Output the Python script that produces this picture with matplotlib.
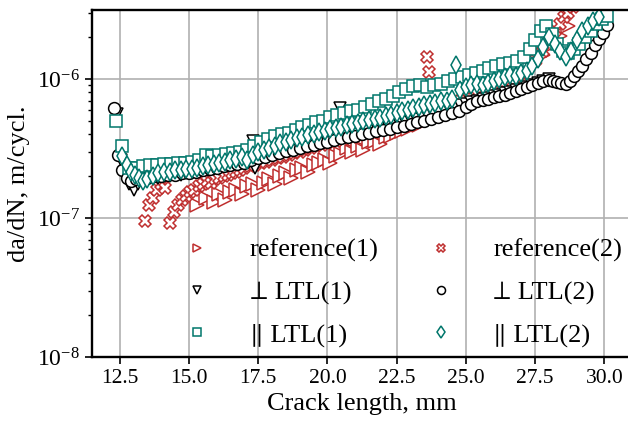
import numpy
import matplotlib
matplotlib.use("Agg")
import matplotlib.pyplot as plt


RED = "#bf2e2e"
TEAL = "#00766b"

# crack length, mm / crack growth rate in units of 1e-7 m/cycl.
ref1_x = [15.3, 15.6, 15.9, 16.1, 16.3, 16.5, 16.7, 16.9, 17.1, 17.3, 17.5,
          17.7, 17.9, 18.1, 18.3, 18.5, 18.7, 18.9, 19.1, 19.3, 19.5, 19.7,
          19.9, 20.1, 20.3, 20.5, 20.7, 20.9, 21.1, 21.3, 21.5, 21.7, 21.9,
          22.1, 22.3, 22.5, 22.7, 22.9, 23.1, 23.3, 23.5, 23.7, 23.9, 24.1,
          24.3, 24.5, 24.8, 25.1, 25.4, 25.7, 26.0, 26.3, 26.6, 26.9, 27.2,
          27.5, 27.8, 28.1, 28.4, 28.7]
ref1_y = [1.25, 1.4, 1.3, 1.5, 1.35, 1.55, 1.6, 1.5, 1.7, 1.75, 1.6, 1.8,
          1.9, 1.75, 2.0, 2.1, 1.95, 2.2, 2.3, 2.15, 2.4, 2.5, 2.6, 2.5, 2.8,
          2.9, 3.2, 3.0, 3.3, 3.1, 3.5, 3.6, 3.4, 3.8, 3.9, 4.1, 4.2, 4.4,
          4.6, 4.7, 4.9, 5.1, 5.3, 5.5, 5.8, 6.0, 6.6, 7.0, 7.4, 7.8, 8.3,
          8.8, 9.4, 10.2, 11.5, 13.0, 15.0, 17.5, 20.5, 24.0]

ref2_x = [13.4, 13.55, 13.7, 13.85, 14.0, 14.15, 14.3, 14.45, 14.6, 14.75,
          14.9, 15.05, 15.2, 15.35, 15.5, 15.65, 15.8, 15.95, 16.1, 16.25,
          16.4, 16.55, 16.7, 16.85, 17.0, 17.2, 17.4, 17.6, 17.8, 18.0, 18.2,
          18.4, 18.6, 18.8, 19.0, 19.2, 19.4, 19.6, 19.8, 20.0, 20.3, 20.6,
          20.9, 21.2, 21.5, 21.8, 22.1, 22.4, 22.7, 23.0, 23.3, 23.6, 23.65,
          23.9, 24.2, 24.5, 24.8, 25.1, 25.4, 25.7, 26.0, 26.3, 26.6, 26.9,
          27.2, 27.5, 27.8, 28.0, 28.2, 28.4, 28.55, 28.7, 28.85, 29.0, 29.15]
ref2_y = [0.95, 1.25, 1.4, 1.6, 1.75, 1.65, 0.92, 1.1, 1.25, 1.35, 1.45,
          1.55, 1.6, 1.7, 1.75, 1.85, 1.8, 1.9, 1.95, 2.0, 2.05, 2.1, 2.15,
          2.2, 2.3, 2.35, 2.4, 2.5, 2.55, 2.6, 2.7, 2.75, 2.85, 2.95, 3.0,
          3.1, 3.2, 3.3, 3.35, 3.45, 3.6, 3.7, 3.85, 4.0, 4.15, 4.3, 4.5,
          4.7, 4.9, 5.1, 5.4, 14.5, 11.2, 5.9, 6.2, 6.6, 7.0, 7.4, 7.8, 8.3,
          8.8, 9.4, 10.0, 10.8, 12.0, 13.5, 16.0, 19.0, 22.0, 25.0, 28.0,
          30.0, 33.0, 36.0, 40.0]

perp1_x = [12.4, 12.55, 12.7, 12.85, 13.0, 13.15, 13.3, 13.5, 13.7, 13.9,
           14.1, 14.3, 14.5, 14.7, 14.9, 15.1, 15.3, 15.5, 15.7, 15.9, 16.1,
           16.3, 16.5, 16.7, 16.9, 17.1, 17.3, 17.4, 17.6, 17.8, 18.0, 18.2,
           18.4, 18.6, 18.8, 19.0, 19.2, 19.4, 19.6, 19.8, 20.0, 20.2, 20.45,
           20.6, 20.8, 21.0, 21.2, 21.4, 21.6, 21.8, 22.0, 22.2, 22.4, 22.6,
           22.8, 23.0, 23.2, 23.4, 23.6, 23.8, 24.0, 24.2, 24.4, 24.6, 24.8,
           25.0, 25.2, 25.4, 25.6, 25.8, 26.0, 26.2, 26.4, 26.6, 26.8, 27.0,
           27.2, 27.4, 27.6, 27.8, 28.0]
perp1_y = [5.6, 2.6, 2.0, 1.75, 1.6, 1.75, 1.85, 1.9, 1.95, 1.95, 2.0, 2.0,
           2.05, 2.05, 2.1, 2.1, 2.15, 2.2, 2.2, 2.25, 2.3, 2.35, 2.4, 2.45,
           2.5, 2.55, 3.6, 2.3, 2.7, 2.8, 2.9, 2.95, 3.05, 3.15, 3.2, 3.3,
           3.4, 3.45, 3.55, 3.6, 3.7, 3.8, 6.2, 3.9, 4.0, 4.05, 4.15, 4.25,
           4.35, 4.4, 4.5, 4.6, 4.7, 4.8, 4.9, 5.0, 5.15, 5.3, 5.5, 5.6, 5.8,
           6.0, 6.1, 6.3, 6.5, 6.6, 6.8, 7.0, 7.2, 7.3, 7.5, 7.7, 7.9, 8.1,
           8.3, 8.5, 8.8, 9.0, 9.3, 9.6, 10.0]

perp2_x = [12.3, 12.45, 12.6, 12.75, 12.9, 13.1, 13.3, 13.5, 13.75, 14.0,
           14.25, 14.5, 14.75, 15.0, 15.25, 15.5, 15.75, 16.0, 16.25, 16.5,
           16.75, 17.0, 17.25, 17.5, 17.75, 18.0, 18.25, 18.5, 18.75, 19.0,
           19.25, 19.5, 19.75, 20.0, 20.25, 20.5, 20.75, 21.0, 21.25, 21.5,
           21.75, 22.0, 22.25, 22.5, 22.75, 23.0, 23.25, 23.5, 23.75, 24.0,
           24.25, 24.5, 24.75, 25.0, 25.2, 25.4, 25.6, 25.8, 26.0, 26.2, 26.4,
           26.6, 26.8, 27.0, 27.2, 27.4, 27.6, 27.8, 28.0, 28.15, 28.3, 28.45,
           28.6, 28.75, 28.9, 29.05, 29.2, 29.35, 29.5, 29.65, 29.8, 29.95,
           30.1]
perp2_y = [6.2, 2.85, 2.2, 1.95, 1.85, 1.9, 1.95, 1.95, 2.0, 2.0, 2.05, 2.05,
           2.1, 2.1, 2.15, 2.2, 2.25, 2.3, 2.35, 2.4, 2.45, 2.5, 2.6, 2.7,
           2.75, 2.85, 2.95, 3.05, 3.1, 3.2, 3.3, 3.35, 3.45, 3.55, 3.65,
           3.75, 3.85, 3.9, 4.0, 4.1, 4.2, 4.3, 4.4, 4.5, 4.6, 4.75, 4.9, 5.0,
           5.15, 5.3, 5.5, 5.7, 5.9, 6.3, 6.6, 6.9, 7.1, 7.2, 7.4, 7.5, 7.7,
           7.9, 8.2, 8.5, 8.8, 9.1, 9.4, 9.7, 9.9, 9.7, 9.5, 9.3, 9.2, 9.6,
           10.5, 11.5, 12.5, 14.0, 15.5, 17.5, 19.5, 21.5, 24.5]

par1_x = [12.35, 12.6, 12.85, 13.1, 13.35, 13.6, 13.85, 14.1, 14.35, 14.6,
          14.85, 15.1, 15.35, 15.6, 15.85, 16.1, 16.35, 16.6, 16.85, 17.1,
          17.35, 17.6, 17.85, 18.1, 18.35, 18.6, 18.85, 19.1, 19.35, 19.6,
          19.85, 20.1, 20.35, 20.6, 20.85, 21.1, 21.35, 21.6, 21.85, 22.1,
          22.35, 22.6, 22.85, 23.1, 23.35, 23.6, 23.85, 24.1, 24.35, 24.6,
          24.85, 25.1, 25.35, 25.6, 25.85, 26.1, 26.35, 26.6, 26.85, 27.1,
          27.3, 27.5, 27.7, 27.9, 28.1, 28.3, 28.5, 28.7, 28.9, 29.1, 29.3,
          29.5, 29.7, 29.9, 30.1]
par1_y = [4.95, 3.3, 2.3, 2.3, 2.35, 2.4, 2.4, 2.45, 2.45, 2.5, 2.5, 2.55,
          2.6, 2.85, 2.8, 2.85, 2.9, 2.95, 3.0, 3.1, 3.3, 3.5, 3.7, 3.9, 4.0,
          4.1, 4.3, 4.5, 4.7, 4.9, 5.0, 5.3, 5.5, 5.7, 5.9, 6.0, 6.3, 6.6,
          6.9, 7.2, 7.6, 8.0, 8.5, 8.9, 9.0, 8.8, 9.0, 9.2, 9.6, 10.0, 10.3,
          10.6, 11.0, 11.5, 12.0, 12.5, 12.8, 13.0, 13.5, 14.5, 16.5, 19.0,
          22.0, 24.0, 21.0, 18.0, 16.0, 15.5, 16.5, 18.0, 20.0, 22.0, 25.0,
          27.0, 28.5]

par2_x = [12.6, 12.75, 12.9, 13.05, 13.2, 13.35, 13.5, 13.7, 13.9, 14.1,
          14.3, 14.5, 14.7, 14.9, 15.1, 15.3, 15.5, 15.7, 15.9, 16.1, 16.3,
          16.5, 16.7, 16.9, 17.1, 17.3, 17.5, 17.7, 17.9, 18.1, 18.3, 18.5,
          18.7, 18.9, 19.1, 19.3, 19.5, 19.7, 19.9, 20.1, 20.3, 20.5, 20.7,
          20.9, 21.1, 21.3, 21.5, 21.7, 21.9, 22.1, 22.3, 22.5, 22.7, 22.9,
          23.1, 23.3, 23.5, 23.7, 23.9, 24.1, 24.3, 24.5, 24.65, 24.8, 25.0,
          25.2, 25.4, 25.6, 25.8, 26.0, 26.2, 26.4, 26.6, 26.8, 27.0, 27.2,
          27.4, 27.6, 27.8, 28.0, 28.2, 28.4, 28.6, 28.8, 29.0, 29.2, 29.4,
          29.6, 29.8]
par2_y = [2.8, 2.4, 2.15, 2.05, 1.95, 1.85, 1.9, 2.0, 2.1, 2.15, 2.15, 2.2,
          2.2, 2.25, 2.25, 2.3, 2.35, 2.4, 2.45, 2.5, 2.55, 2.6, 2.65, 2.75,
          2.6, 2.85, 3.0, 3.1, 3.2, 3.3, 3.45, 3.55, 3.65, 3.75, 3.85, 3.95,
          4.05, 4.15, 4.25, 4.35, 4.45, 4.55, 4.65, 4.75, 4.85, 4.95, 5.05,
          5.15, 5.25, 5.4, 5.55, 5.7, 5.85, 6.0, 6.15, 6.3, 6.45, 6.6, 6.75,
          6.9, 7.0, 7.2, 12.6, 8.3, 8.8, 9.0, 9.2, 9.0, 9.4, 9.7, 10.0, 10.3,
          10.6, 10.5, 11.0, 11.5, 12.5, 14.0, 17.0, 20.0, 18.0, 16.0, 14.5,
          16.0, 19.0, 22.0, 24.0, 26.0, 28.0]

UNIT = 1e-7

PERP = "\u22a5"
PAR = "\u2225"

SERIES = [
    ("reference(1)", ref1_x, ref1_y, ">", RED, 9.5),
    ("reference(2)", ref2_x, ref2_y, "X", RED, 9),
    (PERP + " LTL(1)", perp1_x, perp1_y, "v", "black", 9),
    (PERP + " LTL(2)", perp2_x, perp2_y, "o", "black", 8.5),
    (PAR + " LTL(1)", par1_x, par1_y, "s", TEAL, 8.5),
    (PAR + " LTL(2)", par2_x, par2_y, "d", TEAL, 9),
]


def build_plot():
    plt.rcParams['font.family'] = ['Liberation Serif', 'STIXGeneral',
                                   'DejaVu Serif']
    plt.rcParams['mathtext.fontset'] = 'stix'

    fig = plt.figure(figsize=(6.28, 4.25), dpi=100)
    ax = fig.add_axes([0.1465, 0.16, 0.86, 0.8176])

    handles = dict()
    for label, xs, ys, marker, color, size in SERIES:
        h, = ax.plot(
            xs, numpy.array(ys) * UNIT, linestyle='none', marker=marker,
            markersize=size, markerfacecolor='white', markeredgecolor=color,
            markeredgewidth=1.1, label=label
        )
        handles[label] = h

    ax.set_yscale('log')
    ax.set_xlim(11.5, 31.0)
    ax.set_ylim(1e-8, 10 ** -5.5)
    ax.set_xticks([12.5, 15.0, 17.5, 20.0, 22.5, 25.0, 27.5, 30.0])
    ax.grid(True, which='major', color='#b0b0b0', linewidth=1.2)
    ax.set_axisbelow(True)

    for s in ax.spines.values():
        s.set_linewidth(1.7)
    ax.tick_params(which='major', width=1.2, length=5)
    ax.tick_params(axis='x', labelsize=15.5)
    ax.tick_params(axis='y', labelsize=17)
    ax.tick_params(which='minor', width=1.0, length=3)

    ax.set_xlabel('Crack length, mm', fontsize=19, labelpad=4)
    ax.set_ylabel('da/dN, m/cycl.', fontsize=19, labelpad=5)

    order = ["reference(1)", PERP + " LTL(1)", PAR + " LTL(1)",
             "reference(2)", PERP + " LTL(2)", PAR + " LTL(2)"]
    ax.legend(
        [handles[k] for k in order], order, ncol=2, frameon=False,
        fontsize=19, markerscale=0.68, handlelength=1.0,
        handletextpad=1.5, columnspacing=1.85, labelspacing=0.7,
        loc='upper left', bbox_to_anchor=(0.126, 0.41)
    )

    plt.savefig('out.png', dpi=100)


if __name__ == '__main__':
    build_plot()
